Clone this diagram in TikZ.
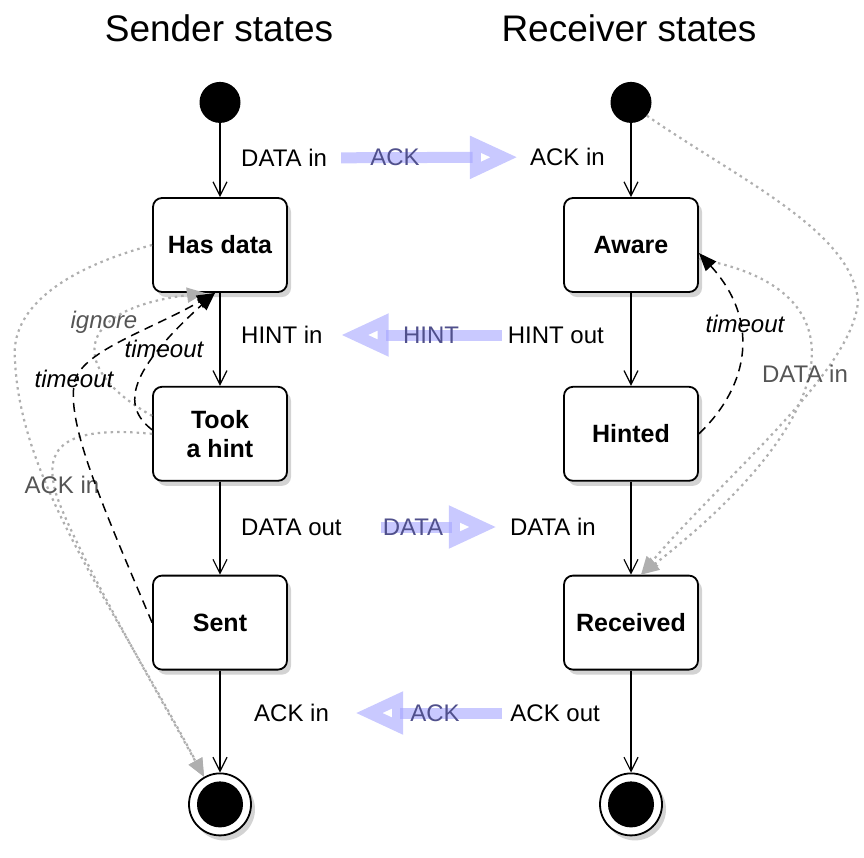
\documentclass[tikz,border=0pt]{standalone}
\usepackage{fontspec}
\setmainfont{Liberation Sans}
\usetikzlibrary{arrows.meta, positioning, shadows}

\definecolor{msgblue}{RGB}{165,165,255}
\definecolor{msgtext}{RGB}{80,80,140}
\definecolor{dotgray}{RGB}{175,175,175}
\definecolor{labelgray}{RGB}{85,85,85}

\newcommand\lblfont{\fontsize{24}{28}\selectfont}

\begin{document}
\begin{tikzpicture}[
    x=1pt, y=-1pt,
    node distance=93pt,
    state/.style={draw, line width=1.8pt, rounded corners=9pt, fill=white, minimum width=134pt, minimum height=94pt, align=center, font=\fontsize{25}{29}\selectfont\bfseries, drop shadow={opacity=.35, shadow xshift=4pt, shadow yshift=-5pt}},
    initst/.style={circle, fill=black, minimum size=41pt, inner sep=0pt},
    finalst/.style={circle, draw, line width=1.8pt, fill=white, minimum size=62pt, inner sep=0pt, drop shadow={opacity=.35, shadow xshift=4pt, shadow yshift=-5pt}, path picture={\fill[black] (path picture bounding box.center) circle (23pt);}},
    title/.style={font=\fontsize{37}{42}\selectfont},
    lbl/.style={font=\lblfont, inner sep=0pt},
    grlbl/.style={lbl, text=labelgray},
    msglbl/.style={lbl, text=msgtext},
    trans/.style={-{Straight Barb[length=14pt, width=14pt]}, line width=1.2pt},
    msg/.style={line width=11pt, draw=msgblue, draw opacity=.6, -{Triangle[open, length=48pt, width=40pt, line width=11pt]}},
    timeoutline/.style={line width=1.5pt, dash pattern=on 9pt off 6pt, -{Triangle[length=18pt, width=14pt]}},
    otherline/.style={line width=2.2pt, draw=dotgray, dash pattern=on 2.5pt off 4pt, -{Triangle[length=18pt, width=15pt, fill=dotgray]}}
]
\useasboundingbox (0,0) rectangle (864,857);

% Titles
\node[title] (stitle) at (219,28) {Sender states};
\node[title] (rtitle) at (629,28) {Receiver states};

% Sender states
\node[state] (hasdata) at (220,245) {Has data};
\node[state, below=of hasdata] (tookhint) {Took\\a hint};
\node[state, below=of tookhint] (sent) {Sent};
\node[initst, above=74pt of hasdata] (sinit) {};
\node[finalst, below=102pt of sent] (sfin) {};

% Receiver states
\node[state] (aware) at (631,245) {Aware};
\node[state, below=of aware] (hinted) {Hinted};
\node[state, below=of hinted] (received) {Received};
\node[initst, above=74pt of aware] (rinit) {};
\node[finalst, below=102pt of received] (rfin) {};

% Transitions
\draw[trans] (sinit) -- (hasdata);
\draw[trans] (hasdata) -- (tookhint);
\draw[trans] (tookhint) -- (sent);
\draw[trans] (sent) -- (sfin);
\draw[trans] (rinit) -- (aware);
\draw[trans] (aware) -- (hinted);
\draw[trans] (hinted) -- (received);
\draw[trans] (received) -- (rfin);

% Transition labels
\node[lbl, anchor=west] (sdatain) at (241,158) {DATA in};
\node[lbl, anchor=west] (shintin) at (241,335) {HINT in};
\node[lbl, anchor=west] (sdataout) at (241,527) {DATA out};
\node[lbl, anchor=west] (sackin) at (254,713) {ACK in};
\node[lbl, anchor=east] (rackin) at (605,157) {ACK in};
\node[lbl, anchor=east] (rhintout) at (604,335) {HINT out};
\node[lbl, anchor=east] (rdatain) at (596,527) {DATA in};
\node[lbl, anchor=east] (rackout) at (600,713) {ACK out};

% Messages
\draw[msg, shorten <=14pt, shorten >=12pt] (sdatain) -- (rackin);
\draw[msg, shorten <=6pt, shorten >=18pt] (rhintout) -- (shintin);
\draw[msg, shorten <=39pt, shorten >=13pt] (sdataout) -- (rdatain);
\draw[msg, shorten <=8pt, shorten >=26pt] (rackout) -- (sackin);
\node[msglbl] (mack) at (395,157) {ACK};
\node[msglbl] (mhint) at (431,335) {HINT};
\node[msglbl] (mdata) at (413,527) {DATA};
\node[msglbl] (mackback) at (435,713) {ACK};

% Other events
\draw[otherline] (hasdata.west) .. controls (60,270) and (10,310) .. (15,360) .. controls (20,480) and (110,600) .. (sfin.120);
\draw[otherline] (tookhint.west) .. controls (60,425) and (45,450) .. (55,490) .. controls (65,530) and (150,680) .. (sfin.120);
\draw[otherline] ([yshift=18pt]tookhint.west) .. controls (70,370) and (70,310) .. ([xshift=-15pt]hasdata.south);
\draw[otherline] (rinit.-40) .. controls (740,180) and (850,230) .. (858,300) .. controls (855,370) and (720,480) .. ([xshift=10pt]received.north);
\draw[otherline] ([yshift=-14pt]aware.east) .. controls (870,290) and (840,420) .. ([xshift=10pt]received.north);
\node[grlbl, font=\lblfont\itshape] (signore) at (104,322) {ignore};
\node[grlbl] (sackinother) at (62,485) {ACK in};
\node[grlbl] (rdatainother) at (805,374) {DATA in};

% Timeouts
\draw[timeoutline] ([yshift=4pt]tookhint.west) .. controls (120,405) and (130,370) .. ([xshift=-5pt]hasdata.south);
\draw[timeoutline] (sent.west) .. controls (100,500) and (65,420) .. (75,380) .. controls (85,350) and (150,330) .. ([xshift=-5pt]hasdata.south);
\draw[timeoutline] (hinted.east) .. controls (750,385) and (760,320) .. ([yshift=-8pt]aware.east);
\node[lbl, font=\lblfont\itshape] (stimeout) at (164,349) {timeout};
\node[lbl, font=\lblfont\itshape] (stimeoutsent) at (74,379) {timeout};
\node[lbl, font=\lblfont\itshape] (rtimeout) at (745,324) {timeout};

\end{tikzpicture}
\end{document}
